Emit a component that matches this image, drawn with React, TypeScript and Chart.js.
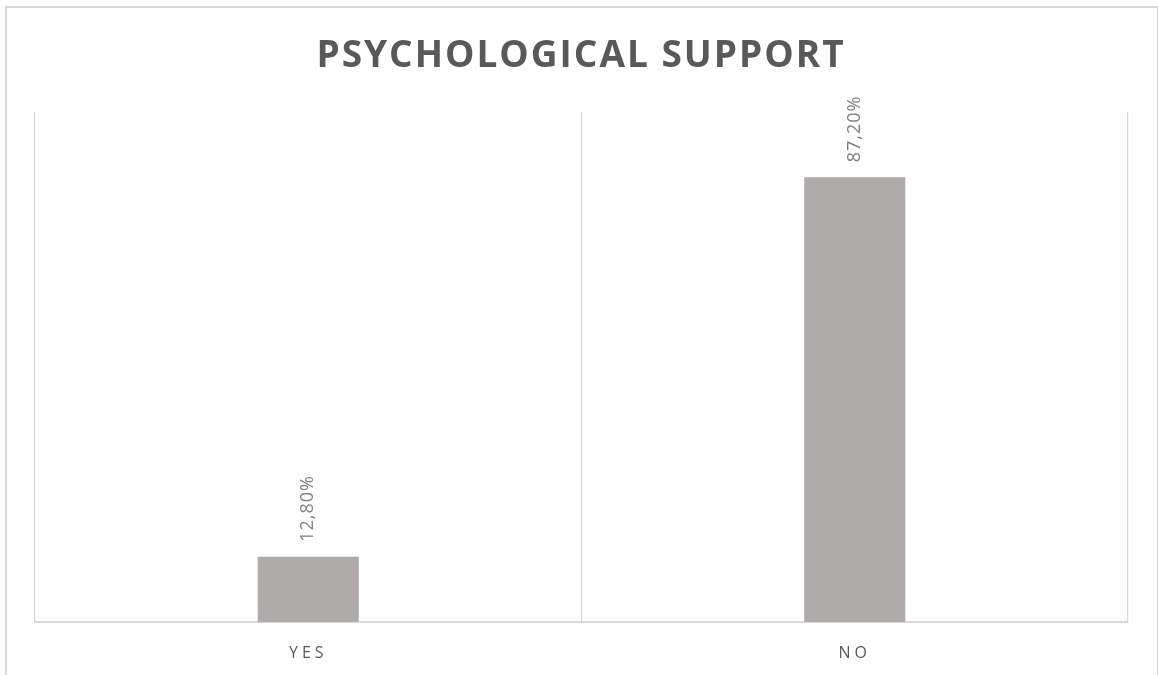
import React, { useEffect, useRef } from "react";
import { Chart, registerables } from "chart.js";

Chart.register(...registerables);

const title = "PSYCHOLOGICAL SUPPORT";
const categories = ["YES", "NO"];
const values = [12.8, 87.2];
const valueLabels = ["12,80%", "87,20%"];

const FONT = "'Open Sans', 'Liberation Sans', sans-serif";

const textPlugin = {
  id: "customText",
  afterDraw(chart: any) {
    const ctx = chart.ctx as CanvasRenderingContext2D;
    const area = chart.chartArea;
    // title
    ctx.save();
    ctx.fillStyle = "#595959";
    ctx.font = `bold 37px ${FONT}`;
    (ctx as any).letterSpacing = "2px";
    ctx.textAlign = "center";
    ctx.textBaseline = "alphabetic";
    ctx.fillText(title, 581, 67);
    ctx.restore();

    // x labels
    const xs = chart.scales.x;
    ctx.save();
    ctx.fillStyle = "#595959";
    ctx.font = `16px ${FONT}`;
    (ctx as any).letterSpacing = "4px";
    ctx.textAlign = "center";
    ctx.textBaseline = "alphabetic";
    categories.forEach((c, i) => {
      ctx.fillText(c, xs.getPixelForValue(i), area.bottom + 36);
    });
    ctx.restore();

    // value labels
    const meta = chart.getDatasetMeta(0);
    ctx.save();
    ctx.fillStyle = "#808080";
    ctx.font = `18px ${FONT}`;
    (ctx as any).letterSpacing = "1px";
    ctx.textAlign = "left";
    ctx.textBaseline = "middle";
    meta.data.forEach((bar: any, i: number) => {
      ctx.save();
      ctx.translate(bar.x, bar.y - 15);
      ctx.rotate(-Math.PI / 2);
      ctx.fillText(valueLabels[i], 0, 0);
      ctx.restore();
    });
    ctx.restore();
  },
};

export default function App() {
  const ref = useRef<HTMLCanvasElement>(null);
  useEffect(() => {
    const chart = new Chart(ref.current!, {
      type: "bar",
      data: {
        labels: categories,
        datasets: [
          {
            data: values,
            backgroundColor: "#AEABAA",
            barPercentage: 0.185,
            categoryPercentage: 1,
          },
        ],
      },
      options: {
        animation: false,
        responsive: false,
        maintainAspectRatio: false,
        layout: { padding: { left: 35, right: 30, top: 112, bottom: 53 } },
        plugins: { legend: { display: false }, tooltip: { enabled: false }, title: { display: false } },
        scales: {
          x: {
            display: true,
            grid: { offset: true, color: "#d9d9d9", lineWidth: 1.3, drawTicks: false },
            border: { color: "#d9d9d9", width: 2 },
            ticks: { display: false },
          },
          y: { display: false, min: 0, max: 100 },
        },
      },
      plugins: [textPlugin],
    });
    return () => chart.destroy();
  }, []);
  return (
    <div style={{ position: "absolute", left: 0, top: 0, width: 1158, height: 675, overflow: "hidden", background: "#fff" }}>
      <div
        style={{
          position: "absolute",
          left: 5,
          top: 6,
          width: 1150,
          height: 720,
          border: "2px solid #d9d9d9",
        }}
      />
      <canvas ref={ref} width={1158} height={675} style={{ position: "absolute", left: 0, top: 0 }} />
    </div>
  );
}
